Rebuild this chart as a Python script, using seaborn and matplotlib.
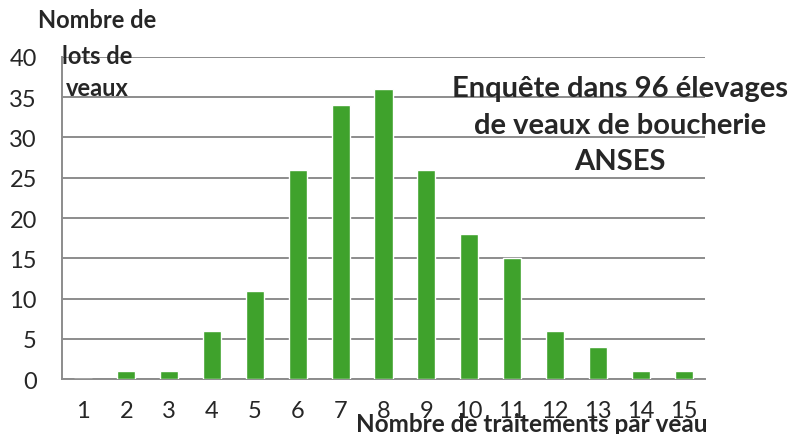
import matplotlib
matplotlib.use('Agg')
import matplotlib.pyplot as plt
import seaborn as sns
import pandas as pd

traitements = [1, 2, 3, 4, 5, 6, 7, 8, 9, 10, 11, 12, 13, 14, 15]
lots = [0, 1, 1, 6, 11, 26, 34, 36, 26, 18, 15, 6, 4, 1, 1]

df = pd.DataFrame({'traitements': [str(t) for t in traitements], 'lots': lots})

sns.set_style('white')
plt.rcParams['font.family'] = ['Lato', 'DejaVu Sans']

fig = plt.figure(figsize=(7.94, 4.35), dpi=100)
ax = fig.add_axes([0.078, 0.126, 0.81, 0.741])

sns.barplot(data=df, x='traitements', y='lots', color='#3fa22c', saturation=1,
            width=0.42, ax=ax, zorder=3)

ax.set_ylim(0, 40)
ax.set_xlim(-0.5, len(traitements) - 0.5)
ax.set_yticks(range(0, 41, 5))
ax.yaxis.grid(True, color='#8c8c8c', linewidth=1.4, zorder=0)
ax.set_axisbelow(True)

# ticks at category boundaries, labels centered on bars
ax.set_xticks([i - 0.5 for i in range(len(traitements) + 1)])
ax.set_xticklabels([])
ax.set_xticks(range(len(traitements)), minor=True)
ax.set_xticklabels([str(t) for t in traitements], minor=True)
ax.tick_params(axis='x', which='major', length=7, width=1.4, color='#8c8c8c', direction='out')
ax.tick_params(axis='x', which='minor', length=0, pad=15, labelsize=17)
ax.tick_params(axis='y', length=7, width=1.4, color='#8c8c8c', direction='out', labelsize=17, pad=11)

for s in ['top', 'right']:
    ax.spines[s].set_visible(False)
for s in ['left', 'bottom']:
    ax.spines[s].set_color('#8c8c8c')
    ax.spines[s].set_linewidth(1.4)

ax.set_xlabel('')
ax.set_ylabel('')

fig.text(97 / 794, 1 - 20 / 435, 'Nombre de', ha='center', va='center', fontsize=17, fontweight='bold')
fig.text(97 / 794, 1 - 57 / 435, 'lots de', ha='center', va='center', fontsize=17, fontweight='bold')
fig.text(97 / 794, 1 - 88 / 435, 'veaux', ha='center', va='center', fontsize=17, fontweight='bold')

fig.text(708 / 794, 1 - 425 / 435, 'Nombre de traitements par veau', ha='right', va='center',
         fontsize=17.5, fontweight='bold')

fig.text(620 / 794, 1 - 126 / 435, 'Enquête dans 96 élevages\nde veaux de boucherie\nANSES',
         ha='center', va='center', fontsize=21, fontweight='bold', linespacing=1.5)

fig.savefig('out.png', dpi=100)
